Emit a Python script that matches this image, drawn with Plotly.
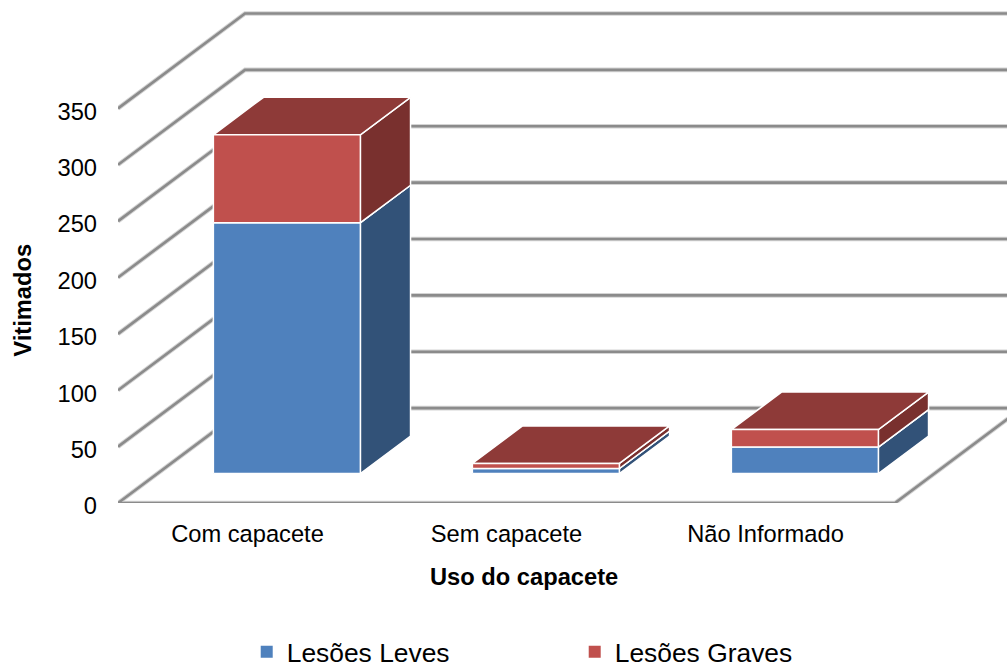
import plotly.graph_objects as go

categories = ["Com capacete", "Sem capacete", "Não Informado"]
lesoes_leves = [222.5, 4.5, 23.5]
lesoes_graves = [78, 4.5, 15.5]
y_ticks = [0, 50, 100, 150, 200, 250, 300, 350]

W, H = 1007, 667
LEFT, FLOOR = 118, 503.5
CAT_PX = 259.0
UNIT_PX = 395 / 350
DEPTH_X = 127 / CAT_PX
DEPTH_V = 95 / UNIT_PX
BAR_W = 147 / CAT_PX
D0, D1 = 0.31, 0.705

def proj(x, d, v):
    return x + d * DEPTH_X, v + d * DEPTH_V

def path(points):
    pts = [proj(*p) for p in points]
    return [p[0] for p in pts], [p[1] for p in pts]

fig = go.Figure()

def line(points, color, width):
    xs, ys = path(points)
    fig.add_trace(go.Scatter(x=xs, y=ys, mode="lines", cliponaxis=False, showlegend=False,
                             hoverinfo="skip", line=dict(color=color, width=width)))

def face(points, color):
    xs, ys = path(points + points[:1])
    fig.add_trace(go.Scatter(x=xs, y=ys, mode="lines", fill="toself", fillcolor=color,
                             cliponaxis=False, showlegend=False, hoverinfo="skip",
                             line=dict(color="white", width=1.5)))

XL, XR = -0.5, 2.5
XFAR = 3.0
for layer_color, layer_width in (("#d4d4d4", 4.6), ("#8b8b8b", 2.6)):
    for t in y_ticks:
        line([(XL, 0, t), (XL, 1, t), (XFAR, 1, t)], layer_color, layer_width)
    line([(XL, 0, 0), (XR, 0, 0), (XR, 1, 0)], layer_color, layer_width)

styles = [("#4F81BD", "#325278", "#3E6392"), ("#C0504D", "#79302E", "#8E3A38")]
for i in range(len(categories)):
    x0, x1 = i - BAR_W / 2, i + BAR_W / 2
    base = 0
    for values, (front, side, top) in zip((lesoes_leves, lesoes_graves), styles):
        v0, v1 = base, base + values[i]
        face([(x1, D0, v0), (x1, D1, v0), (x1, D1, v1), (x1, D0, v1)], side)
        face([(x0, D0, v1), (x1, D0, v1), (x1, D1, v1), (x0, D1, v1)], top)
        face([(x0, D0, v0), (x1, D0, v0), (x1, D0, v1), (x0, D0, v1)], front)
        base = v1

for name, color in (("Lesões Leves", "#4F81BD"), ("Lesões Graves", "#C0504D")):
    fig.add_trace(go.Scatter(x=[None], y=[None], mode="markers", name=name,
                             marker=dict(symbol="square", size=12, color=color)))

font = "Liberation Sans"
fig.update_layout(
    width=W, height=H, autosize=False,
    margin=dict(l=LEFT, r=0, t=0, b=H - FLOOR, pad=0),
    paper_bgcolor="white", plot_bgcolor="white",
    font=dict(family=font, size=23.7, color="black"),
    xaxis=dict(range=[-0.5, -0.5 + (W - LEFT) / CAT_PX], tickmode="array",
               tickvals=[0, 1, 2], ticktext=categories, showgrid=False, zeroline=False,
               showline=False, ticks="", ticklabelstandoff=14),
    yaxis=dict(range=[0, FLOOR / UNIT_PX], tickmode="array", tickvals=y_ticks,
               showgrid=False, zeroline=False, showline=False, ticks="",
               ticklabelstandoff=20, ticklabelshift=3),
    legend=dict(orientation="h", x=0.245, y=(H - 652) / H, xanchor="left", yanchor="middle",
                yref="container", xref="container", entrywidth=283, entrywidthmode="pixels",
                font=dict(size=26.4), bgcolor="rgba(0,0,0,0)", itemclick=False, itemdoubleclick=False),
    annotations=[
        dict(text="<b>Uso do capacete</b>", xref="paper", yref="paper", x=(524 - LEFT) / (W - LEFT),
             y=-(578 - FLOOR) / FLOOR, showarrow=False, font=dict(size=23.7),
             xanchor="center", yanchor="middle"),
        dict(text="<b>Vitimados</b>", xref="paper", yref="paper", x=-(118 - 23) / (W - LEFT),
             y=(FLOOR - 301) / FLOOR, textangle=-90, showarrow=False, font=dict(size=23.7),
             xanchor="center", yanchor="middle"),
    ],
)
fig.write_html("out.html", config={"displayModeBar": False},
               post_script="document.body.style.margin='0';window.dispatchEvent(new Event('resize'));")
